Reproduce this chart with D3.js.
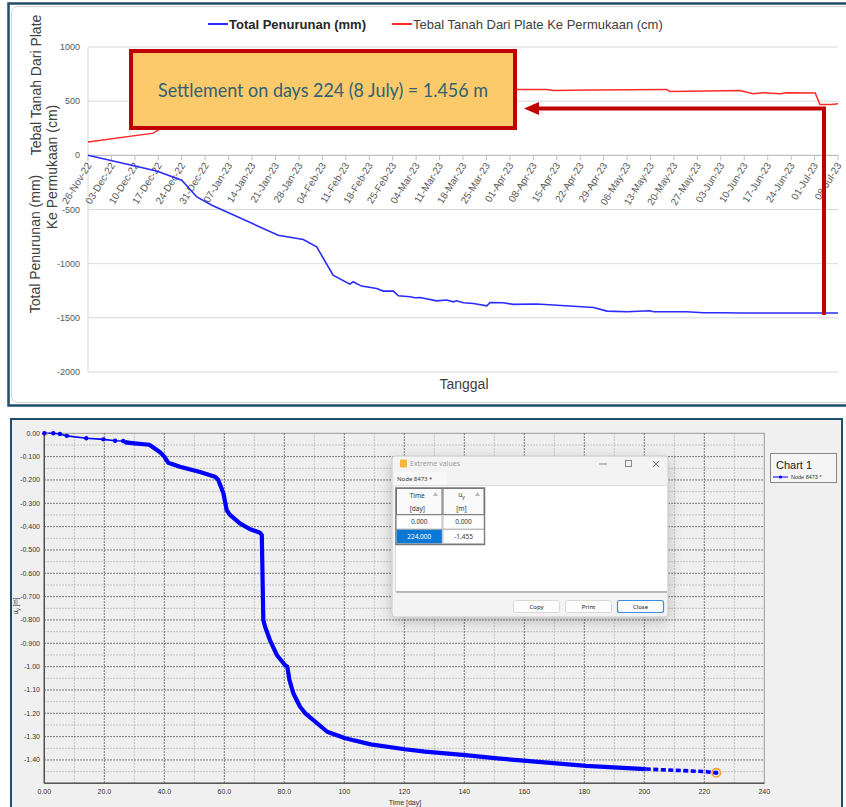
<!DOCTYPE html>
<html><head><meta charset="utf-8">
<script src="https://cdn.jsdelivr.net/npm/d3@7"></script>
<style>
html,body{margin:0;padding:0;background:#fff;}
svg{display:block;}
</style></head><body>
<svg id="fig" width="846" height="807"></svg>
<script>
// ---------- Field monitoring: settlement plate readings ----------
const startDate = new Date(2022, 10, 26);   // 26-Nov-22
const weekCount = 32;                        // weekly date ticks up to 08-Jul-23
const topYTicks = [1000, 500, 0, -500, -1000, -1500, -2000];

// Total Penurunan (mm): days since 26-Nov-22
const settleDays = [0, 20.5, 28, 32.5, 37, 56.8, 64.3, 68.3, 73.2, 78.2, 79.2, 81.7, 86.2, 88.2, 91.2, 92.7, 96.2, 97.7, 99.2, 104.1, 107.1, 109.1, 110.1, 112.1, 115.1, 119.1, 120.1, 124, 127, 134, 139, 151, 155, 161, 167.8, 169, 178.8, 183.8, 188.8, 195.7, 224];
const settleMm   = [0, -145, -230, -384, -461, -737, -777, -845, -1106, -1189, -1167, -1207, -1229, -1253, -1253, -1296, -1306, -1315, -1312, -1343, -1336, -1352, -1343, -1361, -1367, -1389, -1358, -1361, -1376, -1373, -1382, -1404, -1438, -1444, -1435, -1444, -1444, -1453, -1453, -1455, -1456];

// Tebal Tanah Dari Plate Ke Permukaan (cm)
const soilDays = [0, 19.5, 22.4, 30, 40, 55, 75, 100, 128, 137, 139, 150, 172.8, 173.8, 194.7, 198.7, 201.6, 206.7, 208.7, 217.2, 218.6, 222, 224];
const soilCm   = [123, 205, 261, 400, 500, 560, 590, 600, 608, 608, 599, 603, 608, 590, 599, 568, 578, 568, 578, 575, 470, 470, 476];

const noteText = "Settlement on days 224 (8 July) = 1.456 m";
const noteDay = 224;
const noteValue = -1456;

// ---------- Numerical model: node displacement u_y ----------
const modelDays = [0, 3, 5.2, 7.5, 14, 19.7, 23.6, 26.3, 27.2, 30, 35, 36.7, 38.6, 40, 41.3, 45.2, 51.9, 56.9, 58, 59.7, 60.8, 61.9, 65.2, 68.6, 71.9, 72.5, 73, 73.6, 75.2, 77.5, 80.2, 81, 81.7, 83, 85.2, 87, 94.3, 100.3, 108.8, 120.2, 126.9, 140.4, 151, 160.7, 180.6, 200.5, 220.5, 224];
const modelUy   = [0, 0, -0.003, -0.011, -0.021, -0.026, -0.032, -0.033, -0.039, -0.043, -0.049, -0.064, -0.081, -0.100, -0.126, -0.143, -0.166, -0.186, -0.200, -0.257, -0.329, -0.350, -0.386, -0.411, -0.426, -0.436, -0.800, -0.829, -0.886, -0.950, -0.993, -1.000, -1.057, -1.114, -1.171, -1.200, -1.279, -1.307, -1.333, -1.354, -1.364, -1.379, -1.393, -1.404, -1.425, -1.439, -1.450, -1.455];
const modelXTicks = [0, 20, 40, 60, 80, 100, 120, 140, 160, 180, 200, 220, 240];
const modelXLabels = ["0.00", "20.0", "40.0", "60.0", "80.0", "100", "120", "140", "160", "180", "200", "220", "240"];
const modelYTicks = [0, -0.1, -0.2, -0.3, -0.4, -0.5, -0.6, -0.7, -0.8, -0.9, -1.0, -1.1, -1.2, -1.3, -1.4];
const modelYLabels = ["0.00", "-0.100", "-0.200", "-0.300", "-0.400", "-0.500", "-0.600", "-0.700", "-0.800", "-0.900", "-1.00", "-1.10", "-1.20", "-1.30", "-1.40"];
const extremeTime = ["0.000", "224.000"];
const extremeUy = ["0.000", "-1.455"];

const svg = d3.select("#fig");
const FONT = "'Liberation Sans', Arial, sans-serif";
const defs = svg.append("defs");
const sh = defs.append("filter").attr("id", "shadow").attr("x", "-20%").attr("y", "-20%").attr("width", "140%").attr("height", "150%");
sh.append("feDropShadow").attr("dx", 0).attr("dy", 4).attr("stdDeviation", 7).attr("flood-color", "#000").attr("flood-opacity", 0.22);

// =============== TOP PANEL ===============
const topG = svg.append("g");
topG.append("rect").attr("x", 8.5).attr("y", 3.5).attr("width", 850).attr("height", 402)
  .attr("fill", "#fff").attr("stroke", "#1f4e68").attr("stroke-width", 2.5);
topG.append("rect").attr("x", 11.5).attr("y", 6.5).attr("width", 850).attr("height", 396).attr("rx", 6)
  .attr("fill", "#fff").attr("stroke", "#d4d4d4").attr("stroke-width", 1);

const xT = d3.scaleTime().domain([startDate, d3.timeDay.offset(startDate, weekCount * 7)]).range([88, 838]);
const yT = d3.scaleLinear().domain([-2000, 1000]).range([372, 47]);
const dayDate = d => new Date(startDate.getTime() + d * 86400000);

// gridlines
topG.append("g").selectAll("line").data(topYTicks.filter(v => v !== 0)).join("line")
  .attr("x1", 88).attr("x2", 838).attr("y1", d => yT(d)).attr("y2", d => yT(d))
  .attr("stroke", "#d9d9d9").attr("stroke-width", 1);
topG.append("line").attr("x1", 88).attr("x2", 88).attr("y1", yT(1000)).attr("y2", yT(-2000))
  .attr("stroke", "#d9d9d9");
topG.append("line").attr("x1", 88).attr("x2", 838).attr("y1", yT(0)).attr("y2", yT(0))
  .attr("stroke", "#bfbfbf").attr("stroke-width", 1.2);

// y tick labels
topG.append("g").selectAll("text").data(topYTicks).join("text")
  .attr("x", 80).attr("y", d => yT(d)).attr("dy", "0.35em").attr("text-anchor", "end")
  .attr("font-family", FONT).attr("font-size", 9).attr("fill", "#595959").text(d => d);

// x ticks (weekly) on the zero line
const weekTicks = d3.range(0, weekCount + 1).map(i => d3.timeDay.offset(startDate, i * 7));
const fmt = d3.timeFormat("%d-%b-%y");
const xg = topG.append("g");
xg.selectAll("line").data(weekTicks).join("line")
  .attr("x1", d => xT(d)).attr("x2", d => xT(d)).attr("y1", yT(0)).attr("y2", yT(0) + 5)
  .attr("stroke", "#bfbfbf");
xg.selectAll("text").data(weekTicks).join("text")
  .attr("transform", d => `translate(${xT(d) + 4},${yT(0) + 10}) rotate(-58)`)
  .attr("text-anchor", "end").attr("font-family", FONT).attr("font-size", 10).attr("fill", "#595959")
  .text(d => fmt(d));

// series
const lineT = d3.line().x(d => xT(dayDate(d[0]))).y(d => yT(d[1]));
topG.append("path").datum(d3.zip(soilDays, soilCm)).attr("d", lineT)
  .attr("fill", "none").attr("stroke", "#ff2a2a").attr("stroke-width", 1.5);
topG.append("path").datum(d3.zip(settleDays, settleMm)).attr("d", lineT)
  .attr("fill", "none").attr("stroke", "#2b2bff").attr("stroke-width", 1.6);

// legend
const lg = topG.append("g").attr("font-family", FONT).attr("font-size", 13);
lg.append("line").attr("x1", 208).attr("x2", 228).attr("y1", 24).attr("y2", 24).attr("stroke", "#2b2bff").attr("stroke-width", 2);
lg.append("text").attr("x", 229).attr("y", 24).attr("dy", "0.35em").attr("font-weight", "bold").attr("fill", "#262626").text("Total Penurunan (mm)");
lg.append("line").attr("x1", 392).attr("x2", 412).attr("y1", 24).attr("y2", 24).attr("stroke", "#ff2a2a").attr("stroke-width", 2);
lg.append("text").attr("x", 413).attr("y", 24).attr("dy", "0.35em").attr("fill", "#404040").text("Tebal Tanah Dari Plate Ke Permukaan (cm)");

// axis titles
const at = topG.append("g").attr("font-family", FONT).attr("font-size", 14).attr("fill", "#404040").attr("text-anchor", "middle");
at.append("text").attr("transform", "translate(36,85) rotate(-90)").attr("dy", "0.35em").text("Tebal Tanah Dari Plate");
at.append("text").attr("transform", "translate(52.5,167) rotate(-90)").attr("dy", "0.35em").text("Ke Permukaan (cm)");
at.append("text").attr("transform", "translate(35.5,244) rotate(-90)").attr("dy", "0.35em").text("Total Penurunan (mm)");
at.append("text").attr("x", 464).attr("y", 384).attr("dy", "0.35em").text("Tanggal");

// annotation: arrow from the day-224 reading to the callout
const ax = xT(dayDate(noteDay)) - 14;
const ay = 108.5;
topG.append("path").attr("d", `M${ax},${yT(noteValue)} V${ay} H537`)
  .attr("fill", "none").attr("stroke", "#c00000").attr("stroke-width", 4).attr("stroke-linecap", "square");
topG.append("path").attr("d", `M524,${ay} L539,${ay - 6.5} L539,${ay + 6.5} Z`).attr("fill", "#c00000");
topG.append("rect").attr("x", 131).attr("y", 51).attr("width", 384).attr("height", 77)
  .attr("fill", "#fcca6a").attr("stroke", "#c00000").attr("stroke-width", 4);
topG.append("text").attr("x", 158).attr("y", 97).attr("font-family", "Lato, 'Open Sans', sans-serif")
  .attr("font-size", 19.5).attr("textLength", 330).attr("lengthAdjust", "spacingAndGlyphs")
  .attr("fill", "#2f6275").text(noteText);

// =============== BOTTOM PANEL ===============
const bot = svg.append("g");
bot.append("rect").attr("x", 11).attr("y", 419).attr("width", 831).attr("height", 400)
  .attr("fill", "#f0f0f0").attr("stroke", "#1f4e68").attr("stroke-width", 2);

const xB = d3.scaleLinear().domain([0, 240]).range([44.3, 764.3]);
const yB = d3.scaleLinear().domain([-1.5, 0]).range([783.3, 433.3]);

bot.append("rect").attr("x", xB(0)).attr("y", yB(0)).attr("width", xB(240) - xB(0)).attr("height", yB(-1.5) - yB(0))
  .attr("fill", "#efefef").attr("stroke", "#9a9a9a").attr("stroke-width", 1);

const gridB = bot.append("g").attr("stroke-width", 1).attr("stroke-dasharray", "1.5,1.5");
gridB.selectAll("line.vmin").data(d3.range(10, 240, 20)).join("line").attr("class", "vmin")
  .attr("x1", d => xB(d)).attr("x2", d => xB(d)).attr("y1", yB(0)).attr("y2", yB(-1.5)).attr("stroke", "#b5b5b5");
gridB.selectAll("line.hmin").data(d3.range(1, 30, 2).map(k => -k * 0.05)).join("line").attr("class", "hmin")
  .attr("x1", xB(0)).attr("x2", xB(240)).attr("y1", d => yB(d)).attr("y2", d => yB(d)).attr("stroke", "#b5b5b5");
gridB.selectAll("line.vmaj").data(modelXTicks.slice(1, -1)).join("line").attr("class", "vmaj")
  .attr("x1", d => xB(d)).attr("x2", d => xB(d)).attr("y1", yB(0)).attr("y2", yB(-1.5)).attr("stroke", "#555");
gridB.selectAll("line.hmaj").data(modelYTicks.slice(1)).join("line").attr("class", "hmaj")
  .attr("x1", xB(0)).attr("x2", xB(240)).attr("y1", d => yB(d)).attr("y2", d => yB(d)).attr("stroke", "#555");

bot.append("line").attr("x1", xB(0)).attr("x2", xB(0)).attr("y1", yB(0)).attr("y2", yB(-1.5)).attr("stroke", "#555").attr("stroke-width", 1.5);
bot.append("line").attr("x1", xB(0)).attr("x2", xB(240)).attr("y1", yB(-1.5)).attr("y2", yB(-1.5)).attr("stroke", "#555").attr("stroke-width", 1.5);

bot.append("g").selectAll("text").data(modelYTicks).join("text")
  .attr("x", 40).attr("y", d => yB(d)).attr("dy", "0.35em").attr("text-anchor", "end")
  .attr("font-family", FONT).attr("font-size", 7).attr("fill", "#333").text((d, i) => modelYLabels[i]);
bot.append("g").selectAll("text").data(modelXTicks).join("text")
  .attr("x", d => xB(d)).attr("y", 792).attr("dy", "0.35em").attr("text-anchor", "middle")
  .attr("font-family", FONT).attr("font-size", 7).attr("fill", "#333").text((d, i) => modelXLabels[i]);
bot.append("text").attr("x", 405).attr("y", 803).attr("dy", "0.35em").attr("text-anchor", "middle")
  .attr("font-family", FONT).attr("font-size", 7).attr("fill", "#333").text("Time [day]");
const uyl = bot.append("text").attr("transform", "translate(16,606) rotate(-90)").attr("text-anchor", "middle")
  .attr("dy", "0.35em").attr("font-family", FONT).attr("font-size", 6.5).attr("fill", "#333");
uyl.append("tspan").text("u");
uyl.append("tspan").attr("font-size", 5).attr("dy", "0.25em").text("y");
uyl.append("tspan").attr("dy", "-0.25em").text(" [m]");

// displacement curve: thin early part, thick main body, dashed tail
const modelPts = d3.zip(modelDays, modelUy);
const lineB = d3.line().x(d => xB(d[0])).y(d => yB(d[1]));
bot.append("path").datum(modelPts.filter(d => d[0] <= 27.2)).attr("d", lineB)
  .attr("fill", "none").attr("stroke", "#0000ff").attr("stroke-width", 1.6);
bot.append("path").datum(modelPts.filter(d => d[0] >= 27 && d[0] <= 201)).attr("d", lineB)
  .attr("fill", "none").attr("stroke", "#0000ff").attr("stroke-width", 4.2).attr("stroke-linejoin", "round");
bot.append("path").datum(modelPts.filter(d => d[0] >= 200)).attr("d", lineB)
  .attr("fill", "none").attr("stroke", "#0000ff").attr("stroke-width", 3.6).attr("stroke-dasharray", "5,2.5");
bot.append("g").selectAll("circle").data(modelPts.filter(d => d[0] <= 27.2)).join("circle")
  .attr("cx", d => xB(d[0])).attr("cy", d => yB(d[1])).attr("r", 2.2).attr("fill", "#0000ff");
bot.append("line").attr("x1", xB(0) + 1).attr("y1", yB(0) + 2.5).attr("x2", xB(0) + 4).attr("y2", yB(0)).attr("stroke", "#f0a030").attr("stroke-width", 1.2);
const last = modelPts[modelPts.length - 1];
bot.append("circle").attr("cx", xB(last[0])).attr("cy", yB(last[1])).attr("r", 2.2).attr("fill", "#0000ff");
bot.append("circle").attr("cx", xB(last[0])).attr("cy", yB(last[1])).attr("r", 4.2)
  .attr("fill", "none").attr("stroke", "#f5a030").attr("stroke-width", 1.6);

// legend box
const cl = bot.append("g").attr("font-family", FONT);
cl.append("rect").attr("x", 770.5).attr("y", 453.5).attr("width", 66).attr("height", 29).attr("fill", "#f5f5f5").attr("stroke", "#888");
cl.append("text").attr("x", 776).attr("y", 469).attr("font-size", 11).attr("fill", "#222").text("Chart 1");
cl.append("line").attr("x1", 773).attr("x2", 788).attr("y1", 477).attr("y2", 477).attr("stroke", "#0000ff").attr("stroke-width", 1);
cl.append("circle").attr("cx", 780.5).attr("cy", 477).attr("r", 1.6).attr("fill", "#0000ff");
cl.append("text").attr("x", 791).attr("y", 477).attr("dy", "0.35em").attr("font-size", 5.5).attr("fill", "#333").text("Node 8473 *");

// "Extreme values" window
const dlg = bot.append("g").attr("transform", "translate(392,456)").attr("font-family", "'Noto Sans', 'Open Sans', sans-serif");
dlg.append("rect").attr("width", 276).attr("height", 161).attr("rx", 3).attr("fill", "#f3f3f3").attr("stroke", "#c8c8c8").attr("filter", "url(#shadow)");
dlg.append("rect").attr("x", 8).attr("y", 3.5).attr("width", 7).attr("height", 8).attr("rx", 1).attr("fill", "#f6b73c");
dlg.append("text").attr("x", 18).attr("y", 8).attr("dy", "0.35em").attr("font-size", 7).attr("fill", "#9a9a9a").text("Extreme values");
dlg.append("line").attr("x1", 207).attr("x2", 215).attr("y1", 8).attr("y2", 8).attr("stroke", "#888");
dlg.append("rect").attr("x", 233.5).attr("y", 4.5).attr("width", 6).attr("height", 6).attr("fill", "none").attr("stroke", "#888");
dlg.append("path").attr("d", "M261,5 l6,6 M267,5 l-6,6").attr("stroke", "#888");
dlg.append("rect").attr("x", 3).attr("y", 16).attr("width", 52).attr("height", 13).attr("fill", "#f8f8f8");
dlg.append("text").attr("x", 5).attr("y", 23).attr("dy", "0.35em").attr("font-size", 6).attr("fill", "#333").text("Node 8473 *");
dlg.append("rect").attr("x", 3.5).attr("y", 29.5).attr("width", 272).attr("height", 106).attr("fill", "#fff").attr("stroke", "#ddd");
dlg.append("line").attr("x1", 4).attr("x2", 275).attr("y1", 136).attr("y2", 136).attr("stroke", "#aaa").attr("stroke-width", 1.5);

// table
const colX = [4.5, 51];
const colW = [45.5, 41];
const tb = dlg.append("g").attr("font-size", 6.5);
tb.append("rect").attr("x", 4).attr("y", 32).attr("width", 88.5).attr("height", 56.5).attr("fill", "none").attr("stroke", "#777").attr("stroke-width", 1.5);
colX.forEach((cx, i) => {
  tb.append("rect").attr("x", cx).attr("y", 32.5).attr("width", colW[i]).attr("height", 26).attr("fill", "#fafafa").attr("stroke", "#777").attr("stroke-width", 1);
  tb.append("path").attr("d", `M${cx + colW[i] - 9},${40} l2.5,-4 l2.5,4 Z`).attr("fill", "#bbb");
});
tb.append("text").attr("x", colX[0] + colW[0] / 2 - 2).attr("y", 40).attr("dy", "0.35em").attr("text-anchor", "middle").attr("fill", "#333").text("Time");
tb.append("text").attr("x", colX[0] + colW[0] / 2 - 2).attr("y", 53).attr("dy", "0.35em").attr("text-anchor", "middle").attr("fill", "#333").text("[day]");
const uh = tb.append("text").attr("x", colX[1] + colW[1] / 2 - 2).attr("y", 39).attr("dy", "0.35em").attr("text-anchor", "middle").attr("fill", "#333");
uh.append("tspan").text("u");
uh.append("tspan").attr("font-size", 5).attr("dy", "0.3em").text("y");
tb.append("text").attr("x", colX[1] + colW[1] / 2 - 2).attr("y", 53).attr("dy", "0.35em").attr("text-anchor", "middle").attr("fill", "#333").text("[m]");
extremeTime.forEach((t, r) => {
  const ry = 59 + r * 14.5;
  tb.append("rect").attr("x", colX[0]).attr("y", ry).attr("width", colW[0]).attr("height", 14).attr("fill", r === 1 ? "#0a78d7" : "#fff").attr("stroke", "#999").attr("stroke-width", 0.6);
  tb.append("rect").attr("x", colX[1]).attr("y", ry).attr("width", colW[1]).attr("height", 14).attr("fill", "#fff").attr("stroke", "#999").attr("stroke-width", 0.6);
  tb.append("text").attr("x", colX[0] + colW[0] / 2).attr("y", ry + 7).attr("dy", "0.35em").attr("text-anchor", "middle").attr("fill", r === 1 ? "#fff" : "#333").text(t);
  tb.append("text").attr("x", colX[1] + colW[1] / 2).attr("y", ry + 7).attr("dy", "0.35em").attr("text-anchor", "middle").attr("fill", "#333").text(extremeUy[r]);
});

// buttons
[["Copy", 121], ["Print", 173], ["Close", 225]].forEach(([lbl, bx], i) => {
  dlg.append("rect").attr("x", bx + 0.5).attr("y", 144.5).attr("width", 46).attr("height", 12).attr("rx", 2)
    .attr("fill", "#fdfdfd").attr("stroke", i === 2 ? "#3b8fe0" : "#d0d0d0").attr("stroke-width", i === 2 ? 1.2 : 0.8);
  dlg.append("text").attr("x", bx + 23.5).attr("y", 150.5).attr("dy", "0.35em").attr("text-anchor", "middle")
    .attr("font-size", 6).attr("fill", "#222").text(lbl);
});
</script>
</body></html>
